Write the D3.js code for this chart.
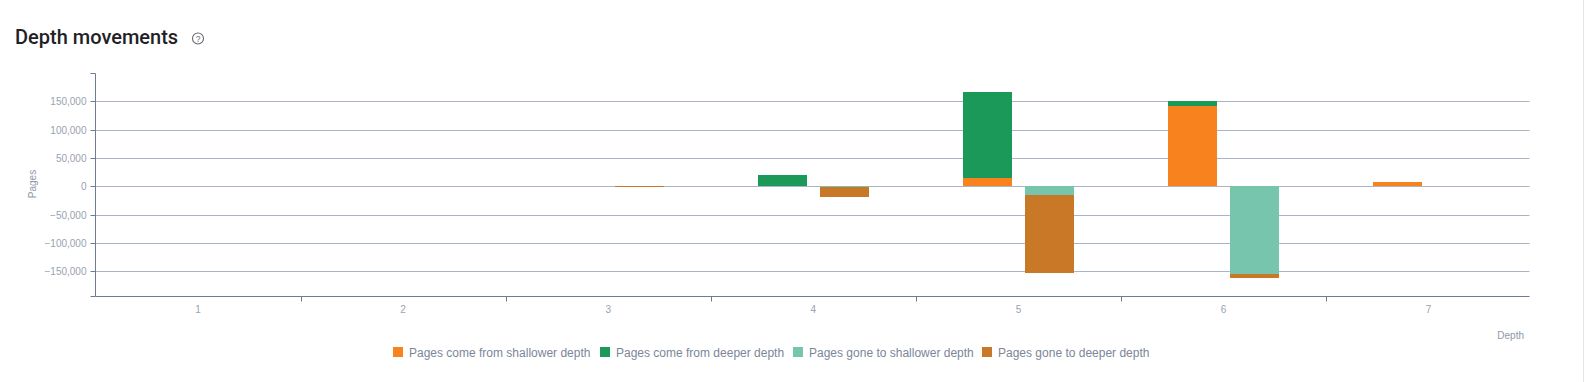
<!DOCTYPE html>
<html>
<head>
<meta charset="utf-8">
<title>Depth movements</title>
<script src="https://cdn.jsdelivr.net/npm/d3@7/dist/d3.min.js"></script>
<style>
  html, body { margin: 0; padding: 0; background: #fff; }
  svg { display: block; }
  text { font-family: "Liberation Sans", Arial, sans-serif; }
  .chart-title { font-family: Roboto, sans-serif; font-size: 20px; font-weight: 500; fill: #1f2126; }
  .tick-label { font-size: 10px; fill: #98a2b0; }
  .axis-title { font-size: 10px; fill: #8e98a8; }
  .legend-label { font-size: 12px; fill: #7b8698; }
</style>
</head>
<body>
<div id="chart"></div>
<script>
const depths = ['1', '2', '3', '4', '5', '6', '7'];
const yTicks = [-150000, -100000, -50000, 0, 50000, 100000, 150000];

const comeShallower = [0, 0, 0, 0, 15000, 142000, 7500];
const comeDeeper = [0, 0, 0, 19500, 151500, 8000, 0];
const goneShallower = [0, 0, 0, -1500, -15500, -155000, 0];
const goneDeeper = [0, 0, -1000, -17000, -137000, -7000, 0];

const seriesNames = [
  'Pages come from shallower depth',
  'Pages come from deeper depth',
  'Pages gone to shallower depth',
  'Pages gone to deeper depth'
];
const seriesColors = ['#f7821e', '#1a9958', '#78c5ae', '#c97828'];

const width = 1584;
const height = 382;
const margin = { top: 73.9, right: 54.5, bottom: 85.1, left: 95.5 };

const svg = d3.select('#chart').append('svg').attr('width', width).attr('height', height);

svg.append('text').attr('class', 'chart-title').attr('x', 15).attr('y', 43.5).text('Depth movements');

// help icon next to the title
const help = svg.append('g').attr('transform', 'translate(198,38.5)');
help.append('circle').attr('r', 5.5).attr('fill', 'none').attr('stroke', '#66696f').attr('stroke-width', 1.1);
help.append('text').attr('text-anchor', 'middle').attr('y', 3).attr('font-size', 8.5).attr('fill', '#66696f').text('?');

const x = d3.scaleBand().domain(depths).range([margin.left, margin.left + 205.1 * 7]);
const y = d3.scaleLinear().domain([-194000, 199000]).range([height - margin.bottom, margin.top]);
const axisRight = width - margin.right;
const snap = (v) => Math.floor(v) + 0.5;

// grid
svg.append('g')
  .selectAll('line')
  .data(yTicks)
  .join('line')
  .attr('x1', margin.left)
  .attr('x2', axisRight)
  .attr('y1', (d) => snap(y(d)))
  .attr('y2', (d) => snap(y(d)))
  .attr('stroke', '#aab4c2')
  .attr('stroke-width', 1);

// bars: two stacks per depth, come on the left, gone on the right
const barWidth = 49;
const barGap = 13;
const stacks = [
  { names: [0, 1], values: [comeShallower, comeDeeper], offset: -barGap / 2 - barWidth },
  { names: [2, 3], values: [goneShallower, goneDeeper], offset: barGap / 2 }
];
stacks.forEach((stack) => {
  depths.forEach((depth, i) => {
    let sum = 0;
    stack.values.forEach((values, k) => {
      const v = values[i];
      if (!v) return;
      const y0 = Math.floor(y(sum));
      const y1 = Math.floor(y(sum + v));
      svg.append('rect')
        .attr('x', Math.round(x(depth) + x.bandwidth() / 2 + stack.offset))
        .attr('y', Math.min(y0, y1))
        .attr('width', barWidth)
        .attr('height', Math.abs(y1 - y0))
        .attr('fill', seriesColors[stack.names[k]]);
      sum += v;
    });
  });
});

// y axis
const yAxis = svg.append('g')
  .attr('transform', `translate(${margin.left},0)`)
  .call(d3.axisLeft(y).tickValues(yTicks).tickSize(5).tickPadding(4).tickFormat(d3.format(',')));
yAxis.select('.domain').remove();
yAxis.selectAll('.tick').attr('transform', (d) => `translate(0,${snap(y(d))})`);
yAxis.selectAll('line').attr('stroke', '#6e7b91');
yAxis.selectAll('text').attr('class', 'tick-label').attr('font-size', null).attr('font-family', null);
const yTop = snap(y.range()[1]);
const xBottom = snap(y.range()[0]);
svg.append('line')
  .attr('x1', margin.left).attr('x2', margin.left)
  .attr('y1', yTop).attr('y2', xBottom)
  .attr('stroke', '#6e7b91');
[yTop, xBottom].forEach((py) => {
  svg.append('line').attr('x1', margin.left - 5).attr('x2', margin.left)
    .attr('y1', py).attr('y2', py).attr('stroke', '#6e7b91');
});

// x axis
const xAxis = svg.append('g')
  .attr('transform', `translate(0,${xBottom})`)
  .call(d3.axisBottom(x).tickSize(0).tickPadding(9));
xAxis.select('.domain').remove();
xAxis.selectAll('text').attr('class', 'tick-label').attr('font-size', null).attr('font-family', null);
svg.append('line')
  .attr('x1', margin.left).attr('x2', axisRight)
  .attr('y1', xBottom).attr('y2', xBottom)
  .attr('stroke', '#6e7b91');
svg.append('g')
  .selectAll('line')
  .data(depths.slice(1))
  .join('line')
  .attr('x1', (d) => Math.round(x(d)) + 0.5)
  .attr('x2', (d) => Math.round(x(d)) + 0.5)
  .attr('y1', xBottom)
  .attr('y2', xBottom + 5)
  .attr('stroke', '#6e7b91');

// axis titles
svg.append('text')
  .attr('class', 'axis-title')
  .attr('transform', 'translate(36,184) rotate(-90)')
  .attr('text-anchor', 'middle')
  .text('Pages');
svg.append('text')
  .attr('class', 'axis-title')
  .attr('x', 1524)
  .attr('y', 339)
  .attr('text-anchor', 'end')
  .text('Depth');

// legend
const legendX = [393, 600, 793, 982];
const legend = svg.append('g')
  .selectAll('g')
  .data(seriesNames)
  .join('g')
  .attr('transform', (_, i) => `translate(${legendX[i]},347)`);
legend.append('rect')
  .attr('width', 10)
  .attr('height', 10)
  .attr('fill', (_, i) => seriesColors[i]);
legend.append('text')
  .attr('class', 'legend-label')
  .attr('x', 16)
  .attr('y', 10)
  .text((d) => d);
svg.append('line')
  .attr('x1', 1583.5).attr('x2', 1583.5).attr('y1', 0).attr('y2', height)
  .attr('stroke', '#e6e6e6');
</script>
</body>
</html>
